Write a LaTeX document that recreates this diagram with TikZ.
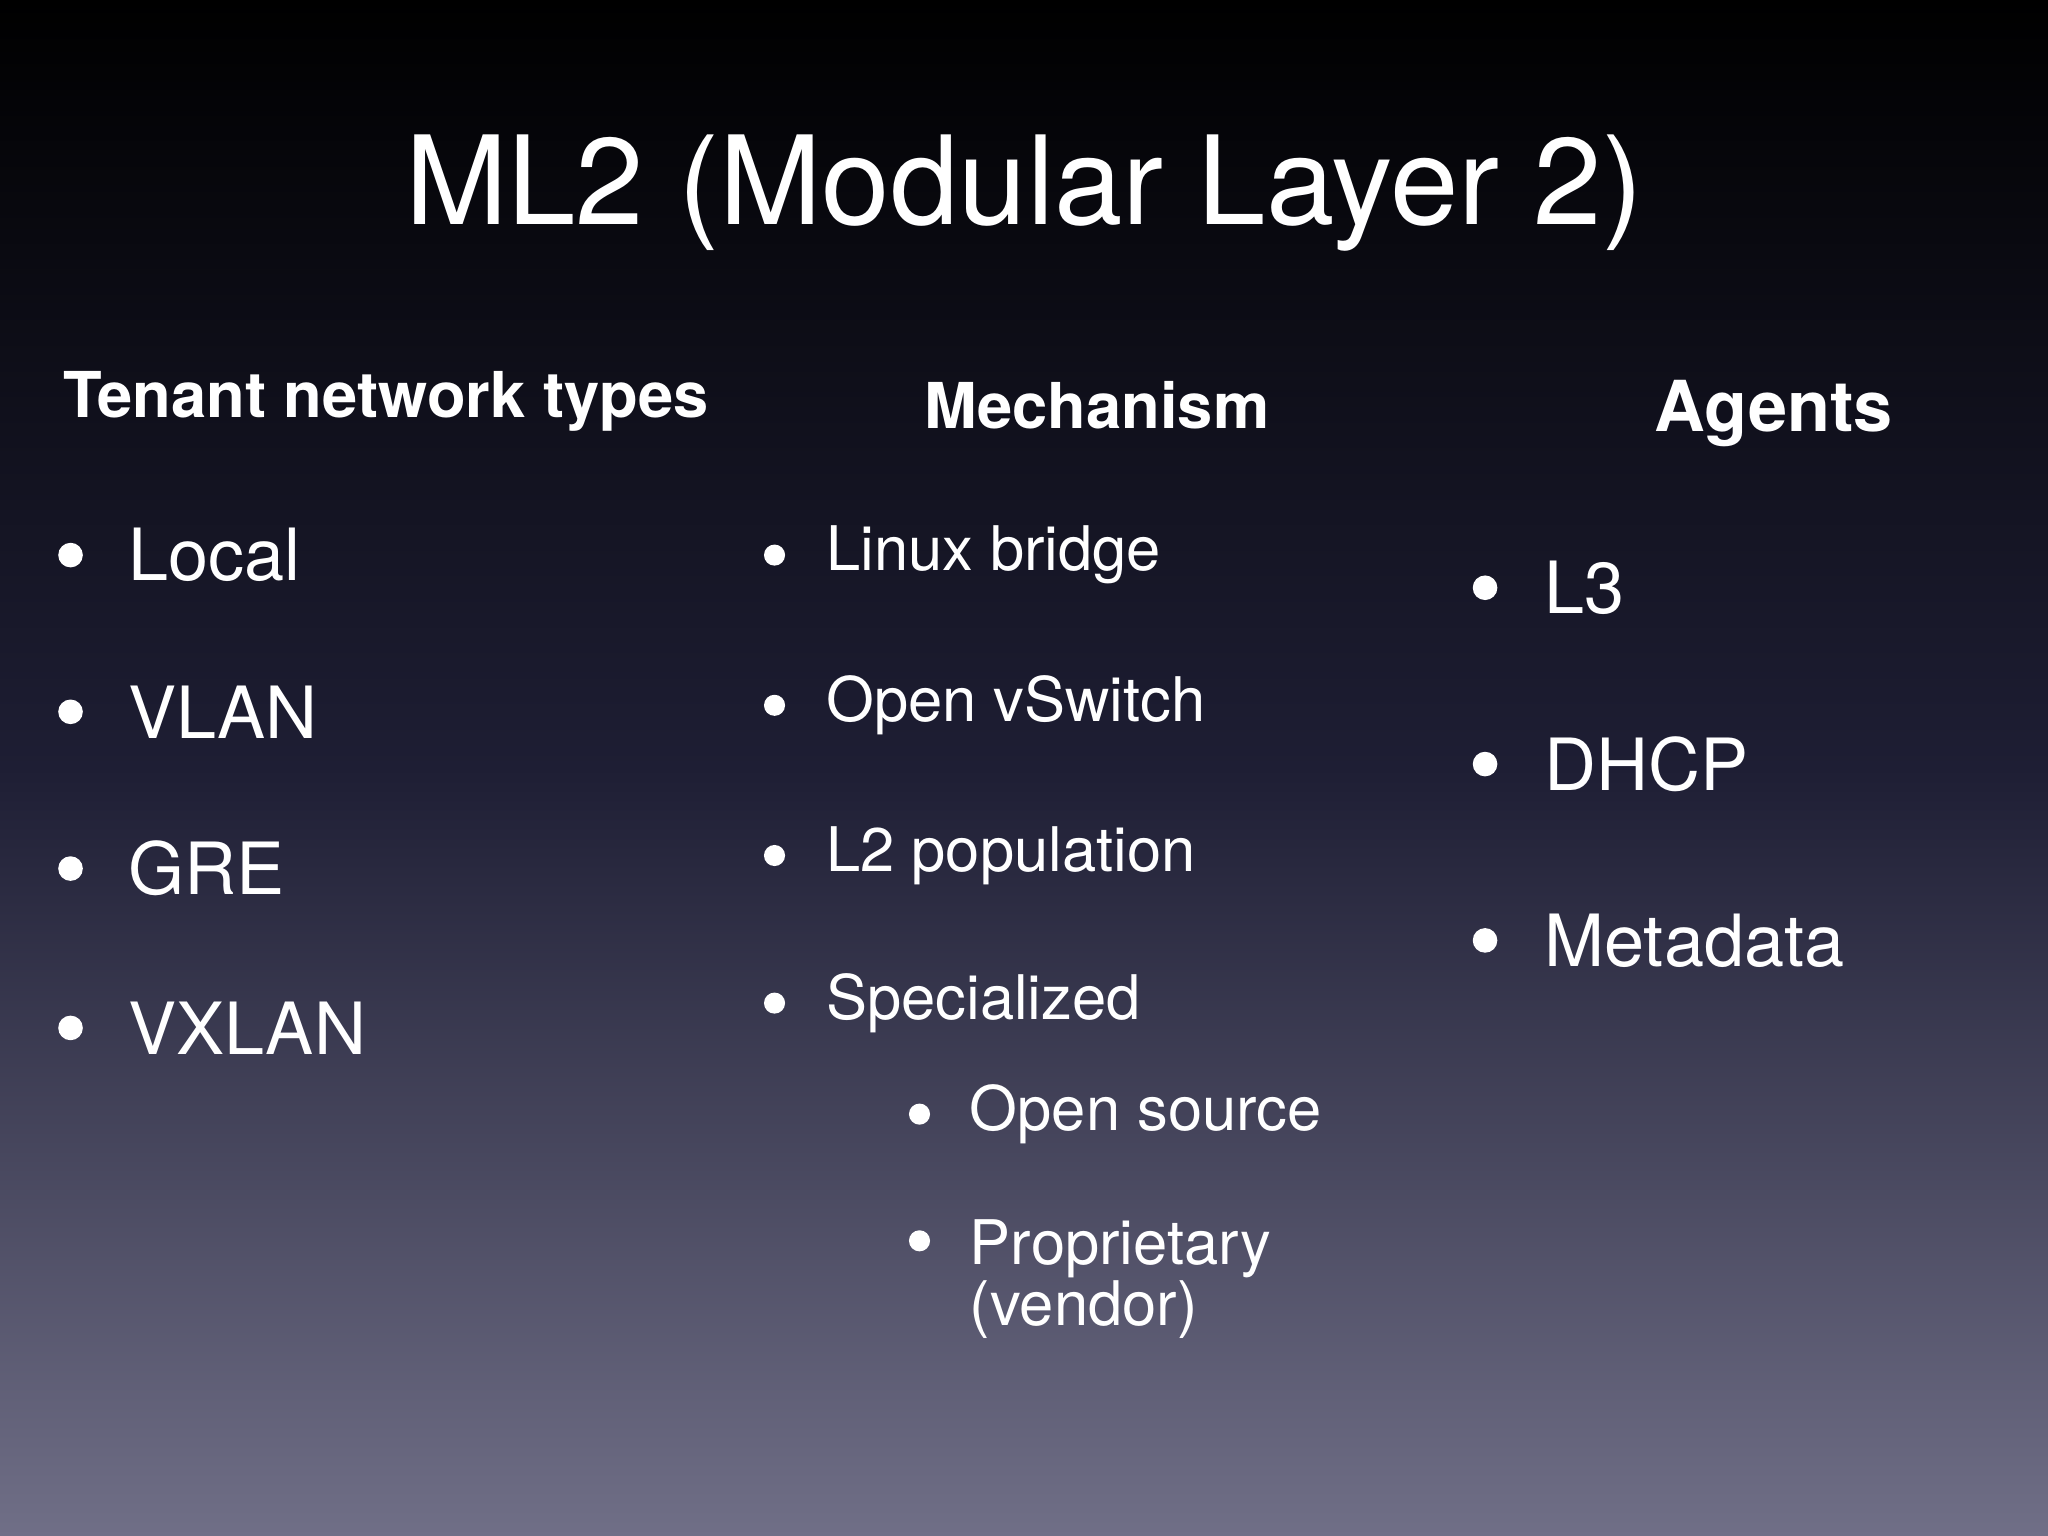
\documentclass[tikz,border=0pt]{standalone}
\usepackage{fontspec}
\setmainfont{TeX Gyre Heros}
\begin{document}
\begin{tikzpicture}[x=0.01306cm,y=-0.01306cm,
  hd/.style={text=white,font=\bfseries\fontsize{18}{22}\selectfont},
  itA/.style={text=white,anchor=west,inner sep=0,font=\fontsize{20.5}{24}\selectfont},
  itB/.style={text=white,anchor=west,inner sep=0,font=\fontsize{17.5}{15.5}\selectfont,align=left},
  dot/.style={circle,fill=white,inner sep=0,minimum size=7pt}]
\shade[top color=black,bottom color={rgb,255:red,112;green,111;blue,135},middle color={rgb,255:red,30;green,30;blue,52}] (0,0) rectangle (1568,1176);
\useasboundingbox (0,0) rectangle (1568,1176);
\node[text=white,font=\fontsize{35}{40}\selectfont] (title) at (784,148) {ML2 (Modular Layer 2)};
\node[hd,anchor=west,inner sep=0] (h1) at (48,307) {Tenant network types};
\node[hd] (h2) at (840,310) {Mechanism};
\node[hd,font=\bfseries\fontsize{20}{24}\selectfont] (h3) at (1358,317) {Agents};
\foreach \t/\y [count=\i] in {Local/425,VLAN/545,GRE/665,VXLAN/787}{
  \node[dot] (a\i) at (54,\y) {};
  \node[itA] (at\i) at (98,\y) {\t};}
\foreach \t/\y [count=\i] in {Linux bridge/425,Open vSwitch/540,L2 population/655,Specialized/768}{
  \node[dot,minimum size=6pt] (b\i) at (593,\y) {};
  \node[itB] (bt\i) at (632,\y) {\t};}
\node[dot,minimum size=6pt] (c1) at (704,853) {};
\node[itB] (ct1) at (742,853) {Open source};
\node[dot,minimum size=6pt] (c2) at (704,950) {};
\node[itB,anchor=north west] (ct2) at (742,933) {Proprietary\\(vendor)};
\foreach \t/\y [count=\i] in {L3/450,DHCP/585,Metadata/720}{
  \node[dot] (d\i) at (1137,\y) {};
  \node[itA] (dt\i) at (1182,\y) {\t};}
\end{tikzpicture}
\end{document}
